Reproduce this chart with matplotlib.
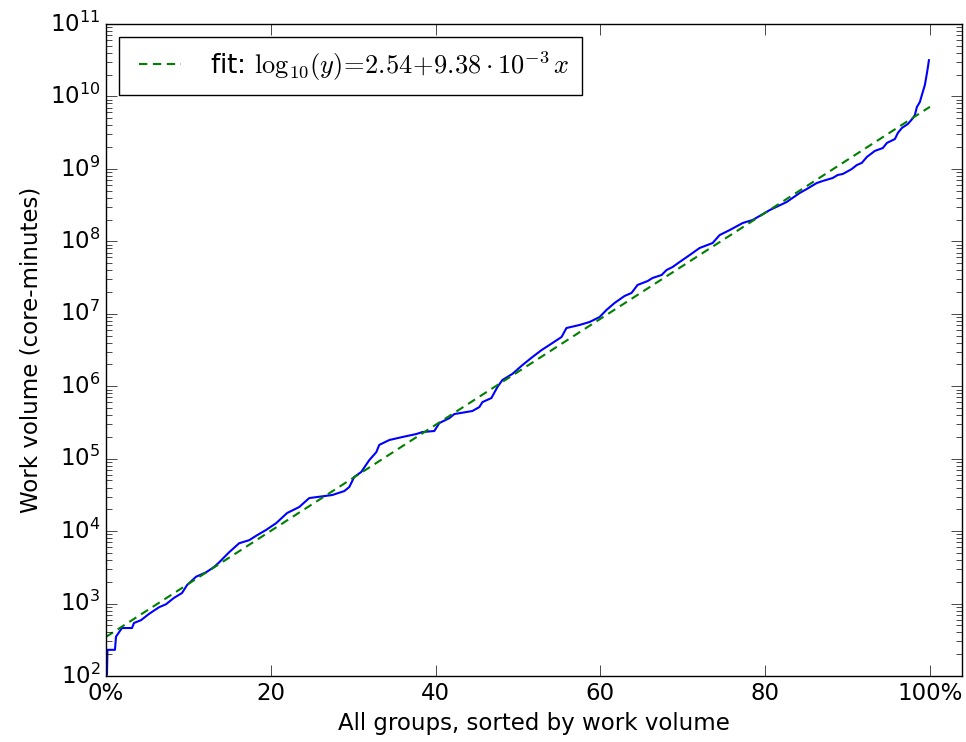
import numpy as np
import matplotlib
matplotlib.use("Agg")
import matplotlib.pyplot as plt

# group rank (percent of all groups) and work volume in core-minutes
rank_pct = [
    0.12, 0.18, 1.09, 1.22, 1.94, 3.16, 3.40, 4.25, 5.22, 6.44, 7.29, 8.26,
    9.23, 9.84, 10.94, 12.15, 13.12, 13.73, 14.94, 16.16, 17.38, 18.35,
    19.44, 20.66, 21.99, 23.45, 24.67, 27.46, 28.92, 29.53, 30.13, 30.98,
    31.96, 32.81, 33.17, 34.39, 35.97, 37.67, 38.40, 39.85, 40.46, 41.68,
    42.28, 44.47, 45.32, 45.69, 46.78, 47.51, 48.12, 49.33, 50.55, 51.76,
    52.86, 54.19, 55.29, 55.89, 57.47, 58.69, 59.90, 60.75, 61.73, 62.94,
    63.79, 64.52, 65.74, 66.34, 67.44, 68.04, 68.77, 69.62, 70.84, 72.05,
    73.63, 74.48, 75.70, 77.28, 78.49, 80.56, 82.62, 84.20, 85.05, 86.27,
    87.00, 88.21, 88.82, 89.43, 90.52, 91.13, 91.74, 92.35, 93.32, 94.29,
    94.78, 95.75, 96.11, 96.60, 97.33, 97.93, 98.18, 98.42, 98.78, 99.03,
    99.39, 99.64, 99.76, 99.88,
]
work_volume = [
    105, 230, 230, 350, 460, 460, 540, 590, 720, 890, 980, 1200,
    1400, 1800, 2350, 2700, 3200, 3700, 5100, 6800, 7500, 8800,
    10400, 12900, 17800, 21500, 28600, 31500, 35700, 40600, 55900, 65500,
    95600, 1.23e5, 1.55e5, 1.81e5, 1.99e5, 2.19e5, 2.33e5, 2.41e5, 3.10e5, 3.63e5,
    4.13e5, 4.55e5, 5.16e5, 6.04e5, 6.87e5, 9.75e5, 1.22e6, 1.48e6, 1.96e6, 2.53e6,
    3.15e6, 3.95e6, 4.78e6, 6.36e6, 7.0e6, 7.7e6, 9.0e6, 1.13e7, 1.41e7, 1.76e7,
    1.94e7, 2.50e7, 2.83e7, 3.12e7, 3.43e7, 4.02e7, 4.42e7, 5.18e7, 6.46e7, 8.09e7,
    9.48e7, 1.22e8, 1.43e8, 1.79e8, 1.97e8, 2.70e8, 3.49e8, 4.65e8, 5.27e8, 6.38e8,
    6.81e8, 7.49e8, 8.24e8, 8.50e8, 9.96e8, 1.13e9, 1.21e9, 1.46e9, 1.77e9, 1.94e9,
    2.28e9, 2.58e9, 3.13e9, 3.67e9, 4.17e9, 5.0e9, 5.55e9, 7.14e9, 8.37e9, 1.05e10,
    1.44e10, 2.10e10, 2.55e10, 3.16e10,
]

n_groups = 780
fit_intercept = 2.54
fit_slope = 9.38e-3

tick_pct = [0, 20, 40, 60, 80, 100]
tick_labels = ["0%", "20", "40", "60", "80", "100%"]

plt.style.use("classic")
plt.rcParams["font.size"] = 16.5

fig = plt.figure(figsize=(9.66, 7.42), dpi=100, facecolor="white")
ax = fig.add_axes([0.1097, 0.0889, 0.8862, 0.8788])

idx = np.array(rank_pct) * n_groups / 100.0
ax.plot(idx, work_volume, color="b", linewidth=1.5)

fit_x = np.array([0, n_groups])
ax.plot(fit_x, 10 ** (fit_intercept + fit_slope * fit_x), "g--", linewidth=1.5,
        dashes=(6, 4),
        label=r"fit: $\mathrm{log}_{10}(y)\!=\!2.54\!+\!9.38\cdot 10^{-3}\,x$")

ax.set_yscale("log")
ax.set_ylim(1e2, 1e11)
ax.set_xlim(0, n_groups * 1.039)
ax.set_xticks([p * n_groups / 100.0 for p in tick_pct])
ax.set_xticklabels(tick_labels)
ax.tick_params(which="major", length=8)
ax.tick_params(which="minor", length=4)

ax.set_xlabel("All groups, sorted by work volume")
ax.set_ylabel("Work volume (core-minutes)")

ax.legend(loc="upper left", fontsize=19, handlelength=2.2, borderpad=0.45)

fig.savefig("out.png", dpi=100, facecolor="white")
